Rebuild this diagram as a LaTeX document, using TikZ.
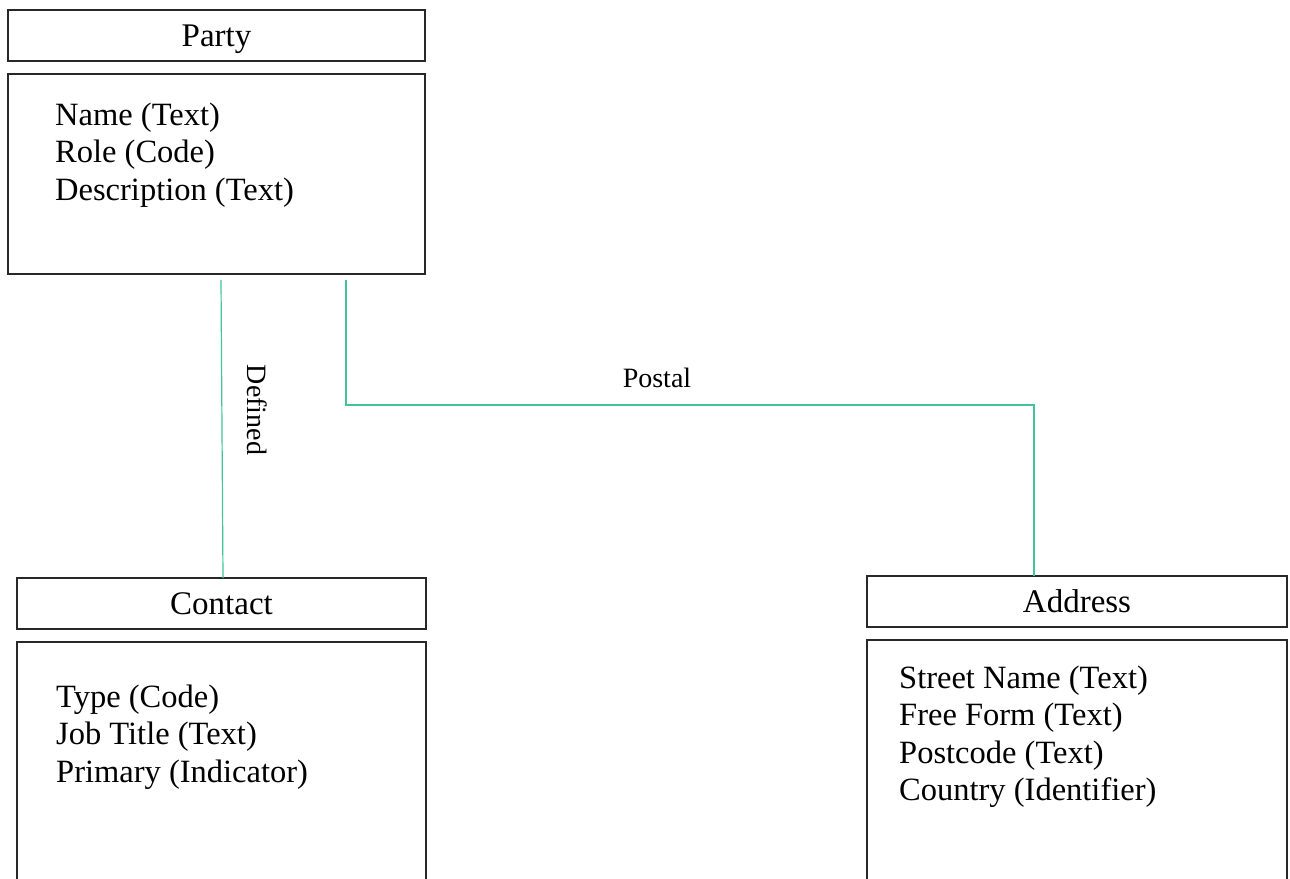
\documentclass[tikz,border=0pt]{standalone}
\usepackage{fontspec}
\setmainfont{Liberation Serif}
\definecolor{rel}{RGB}{64,196,152}
\definecolor{edge}{RGB}{40,40,40}
\begin{document}
\begin{tikzpicture}[x=1pt,y=-1pt,
  titlebox/.style={draw=edge,line width=1.4pt,inner sep=0pt,outer sep=0pt,text height=30pt,text depth=8pt,minimum height=51pt,font=\fontsize{33}{38}\selectfont},
  bodybox/.style={draw=edge,line width=1.6pt,inner sep=0pt,outer sep=0pt,anchor=north west},
  attr/.style={anchor=base west,inner sep=0pt,font=\fontsize{32.5}{37.5}\selectfont},
  relline/.style={draw=rel,line width=1.2pt},
  rellabel/.style={inner sep=0pt,font=\fontsize{28}{32}\selectfont}]
\useasboundingbox (0,0) rectangle (1290,878);
\clip (0,0) rectangle (1290,878);
% Party
\node[titlebox,minimum width=417pt] (partyt) at (216.5,35.5) {Party};
\node[bodybox,minimum width=417pt,minimum height=200pt] (partyb) at (8,74) {};
\node[attr] (pa1) at (55,125) {Name (Text)};
\node[attr] (pa2) at (55,162.5) {Role (Code)};
\node[attr] (pa3) at (55,200) {Description (Text)};
% Contact
\node[titlebox,minimum width=409pt] (contactt) at (221.5,603.5) {Contact};
\node[bodybox,minimum width=409pt,minimum height=260pt] (contactb) at (17,642) {};
\node[attr] (ca1) at (56,707) {Type (Code)};
\node[attr] (ca2) at (56,744.5) {Job Title (Text)};
\node[attr] (ca3) at (56,782) {Primary (Indicator)};
% Address
\node[titlebox,minimum width=420pt] (addresst) at (1077,601.5) {Address};
\node[bodybox,minimum width=420pt,minimum height=260pt] (addressb) at (867,640) {};
\node[attr] (aa1) at (899,688) {Street Name (Text)};
\node[attr] (aa2) at (899,725.5) {Free Form (Text)};
\node[attr] (aa3) at (899,763) {Postcode (Text)};
\node[attr] (aa4) at (899,800.5) {Country (Identifier)};
% Connectors
\draw[relline] ([xshift=4.5pt,yshift=-6pt]partyb.south) -- ([xshift=1.5pt]contactt.north);
\draw[relline] ([xshift=129.5pt,yshift=-6pt]partyb.south) -- ++(0,125) -| ([xshift=-43pt]addresst.north);
\node[rellabel,rotate=-90] (deflabel) at (257,410) {Defined};
\node[rellabel] (postlabel) at (657,378) {Postal};
\end{tikzpicture}
\end{document}
